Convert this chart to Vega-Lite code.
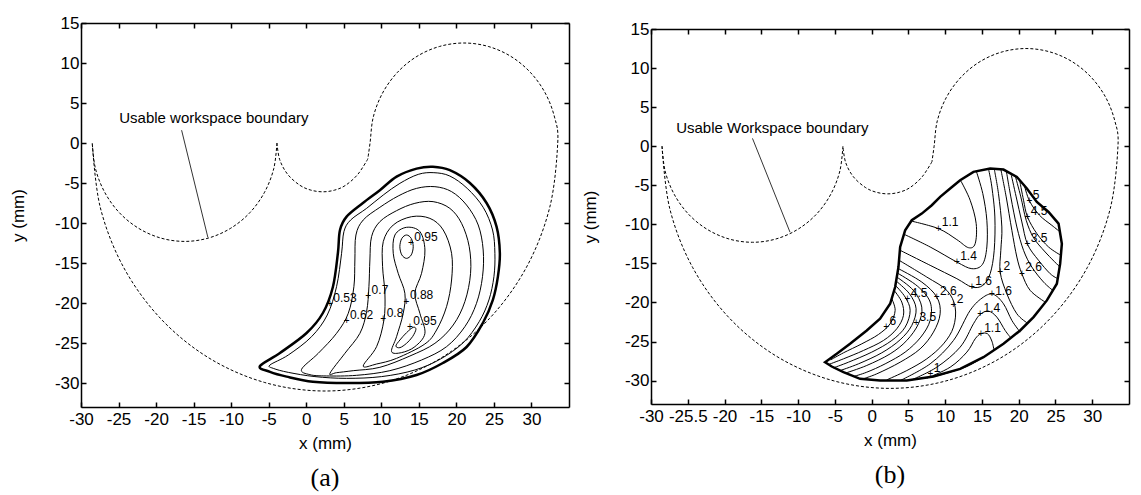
{
"$schema": "https://vega.github.io/schema/vega-lite/v6.json",
"autosize": {"type": "none"},
"padding": {"left": 81, "top": 23, "right": 1060, "bottom": 472},
"background": "white",
"config": {"view": {"stroke": null}, "font": "Liberation Sans"},
"datasets": {
"ws": [
{"c":"A","i":1,"x":-28.5,"y":0},{"c":"A","i":2,"x":-27.44,"y":-8.02},{"c":"A","i":3,"x":-24.35,"y":-15.5},{"c":"A","i":4,"x":-19.42,"y":-21.92},{"c":"A","i":5,"x":-13.0,"y":-26.85},{"c":"A","i":6,"x":-5.52,"y":-29.94},{"c":"A","i":7,"x":2.5,"y":-31},{"c":"A","i":8,"x":10.52,"y":-29.94},{"c":"A","i":9,"x":18.0,"y":-26.85},{"c":"A","i":10,"x":24.42,"y":-21.92},{"c":"A","i":11,"x":29.35,"y":-15.5},{"c":"A","i":12,"x":32.44,"y":-8.02},{"c":"A","i":13,"x":33.5,"y":0},{"c":"A","i":14,"x":33.07,"y":3.24},{"c":"A","i":15,"x":31.83,"y":6.25},{"c":"A","i":16,"x":29.84,"y":8.84},{"c":"A","i":17,"x":27.25,"y":10.83},{"c":"A","i":18,"x":24.24,"y":12.07},{"c":"A","i":19,"x":21.0,"y":12.5},{"c":"A","i":20,"x":17.76,"y":12.07},{"c":"A","i":21,"x":14.75,"y":10.83},{"c":"A","i":22,"x":12.16,"y":8.84},{"c":"A","i":23,"x":10.17,"y":6.25},{"c":"A","i":24,"x":8.93,"y":3.24},{"c":"A","i":25,"x":8.5,"y":0},{"c":"A","i":26,"x":8.2,"y":-2.0},
{"c":"B","i":1,"x":8.2,"y":-2.0},{"c":"B","i":2,"x":6.87,"y":-3.92},{"c":"B","i":3,"x":5.25,"y":-5.28},{"c":"B","i":4,"x":3.78,"y":-5.89},{"c":"B","i":5,"x":2.2,"y":-6.1},{"c":"B","i":6,"x":0.62,"y":-5.89},{"c":"B","i":7,"x":-0.85,"y":-5.28},{"c":"B","i":8,"x":-2.47,"y":-3.92},{"c":"B","i":9,"x":-3.53,"y":-2.09},{"c":"B","i":10,"x":-3.9,"y":0},
{"c":"C","i":1,"x":-3.9,"y":0},{"c":"C","i":2,"x":-4.32,"y":-3.18},{"c":"C","i":3,"x":-5.55,"y":-6.15},{"c":"C","i":4,"x":-7.5,"y":-8.7},{"c":"C","i":5,"x":-10.05,"y":-10.65},{"c":"C","i":6,"x":-13.02,"y":-11.88},{"c":"C","i":7,"x":-16.2,"y":-12.3},{"c":"C","i":8,"x":-19.38,"y":-11.88},{"c":"C","i":9,"x":-22.35,"y":-10.65},{"c":"C","i":10,"x":-24.9,"y":-8.7},{"c":"C","i":11,"x":-26.85,"y":-6.15},{"c":"C","i":12,"x":-28.08,"y":-3.18},{"c":"C","i":13,"x":-28.5,"y":0}
],
"ca": [
{"c":"T","i":1,"x":-6.17,"y":-27.9},{"c":"T","i":2,"x":-3.5,"y":-26.25},{"c":"T","i":3,"x":0.05,"y":-23.75},{"c":"T","i":4,"x":2.22,"y":-21.25},{"c":"T","i":5,"x":3.55,"y":-18.0},{"c":"T","i":6,"x":4.22,"y":-13.75},{"c":"T","i":7,"x":4.49,"y":-10.9},{"c":"T","i":8,"x":5.38,"y":-9.2},{"c":"T","i":9,"x":7.55,"y":-7.5},{"c":"T","i":10,"x":9.81,"y":-5.9},{"c":"T","i":11,"x":12.04,"y":-4.2},{"c":"T","i":12,"x":14.7,"y":-3.2},{"c":"T","i":13,"x":16.87,"y":-2.96},{"c":"T","i":14,"x":19.13,"y":-3.4},{"c":"T","i":15,"x":21.8,"y":-5.0},{"c":"T","i":16,"x":24.02,"y":-7.5},{"c":"T","i":17,"x":25.35,"y":-10.46},{"c":"T","i":18,"x":25.79,"y":-13.75},{"c":"T","i":19,"x":25.53,"y":-16.7},{"c":"T","i":20,"x":24.86,"y":-19.6},{"c":"T","i":21,"x":23.53,"y":-22.5},{"c":"T","i":22,"x":21.36,"y":-25.5},{"c":"T","i":23,"x":18.2,"y":-27.5},{"c":"T","i":24,"x":14.7,"y":-29.0},{"c":"T","i":25,"x":10.21,"y":-29.84},{"c":"T","i":26,"x":5.38,"y":-30.0},{"c":"T","i":27,"x":0.89,"y":-29.84},{"c":"T","i":28,"x":-2.61,"y":-29.2},{"c":"T","i":29,"x":-4.83,"y":-28.6},
{"c":"c53","i":1,"x":-4.83,"y":-27.75},{"c":"c53","i":2,"x":-2.39,"y":-26.5},{"c":"c53","i":3,"x":0.71,"y":-24.21},{"c":"c53","i":4,"x":2.8,"y":-21.5},{"c":"c53","i":5,"x":4.04,"y":-17.96},{"c":"c53","i":6,"x":4.71,"y":-13.79},{"c":"c53","i":7,"x":5.02,"y":-11.08},{"c":"c53","i":8,"x":5.91,"y":-9.63},{"c":"c53","i":9,"x":8.04,"y":-8.17},{"c":"c53","i":10,"x":10.26,"y":-6.5},{"c":"c53","i":11,"x":12.48,"y":-5.04},{"c":"c53","i":12,"x":14.92,"y":-3.92},{"c":"c53","i":13,"x":17.0,"y":-3.71},{"c":"c53","i":14,"x":19.13,"y":-4.13},{"c":"c53","i":15,"x":21.44,"y":-5.67},{"c":"c53","i":16,"x":23.57,"y":-8.04},{"c":"c53","i":17,"x":24.82,"y":-10.875},{"c":"c53","i":18,"x":25.13,"y":-13.79},{"c":"c53","i":19,"x":25.0,"y":-16.71},{"c":"c53","i":20,"x":24.33,"y":-19.625},{"c":"c53","i":21,"x":23.04,"y":-22.33},{"c":"c53","i":22,"x":20.91,"y":-24.96},{"c":"c53","i":23,"x":17.89,"y":-27.0},{"c":"c53","i":24,"x":14.47,"y":-28.375},{"c":"c53","i":25,"x":10.04,"y":-29.2},{"c":"c53","i":26,"x":5.37,"y":-29.42},{"c":"c53","i":27,"x":1.16,"y":-29.2},{"c":"c53","i":28,"x":-2.39,"y":-28.67},{"c":"c53","i":29,"x":-4.39,"y":-28.17},
{"c":"c62","i":1,"x":-0.62,"y":-28.29},{"c":"c62","i":2,"x":1.6,"y":-26.29},{"c":"c62","i":3,"x":4.04,"y":-23.79},{"c":"c62","i":4,"x":5.6,"y":-21.29},{"c":"c62","i":5,"x":6.35,"y":-17.96},{"c":"c62","i":6,"x":6.48,"y":-14.625},{"c":"c62","i":7,"x":6.62,"y":-11.5},{"c":"c62","i":8,"x":7.59,"y":-9.625},{"c":"c62","i":9,"x":9.81,"y":-8.04},{"c":"c62","i":10,"x":12.25,"y":-6.625},{"c":"c62","i":11,"x":14.7,"y":-5.67},{"c":"c62","i":12,"x":17.14,"y":-5.46},{"c":"c62","i":13,"x":19.36,"y":-6.08},{"c":"c62","i":14,"x":21.35,"y":-7.75},{"c":"c62","i":15,"x":22.91,"y":-10.25},{"c":"c62","i":16,"x":23.57,"y":-13.375},{"c":"c62","i":17,"x":23.48,"y":-16.71},{"c":"c62","i":18,"x":22.68,"y":-20.04},{"c":"c62","i":19,"x":21.13,"y":-22.96},{"c":"c62","i":20,"x":18.69,"y":-25.46},{"c":"c62","i":21,"x":15.36,"y":-27.125},{"c":"c62","i":22,"x":11.14,"y":-28.46},{"c":"c62","i":23,"x":6.71,"y":-29.04},{"c":"c62","i":24,"x":2.71,"y":-29.12},{"c":"c62","i":25,"x":0.49,"y":-28.96},
{"c":"c70","i":1,"x":3.16,"y":-28.79},{"c":"c70","i":2,"x":5.15,"y":-26.29},{"c":"c70","i":3,"x":7.15,"y":-23.79},{"c":"c70","i":4,"x":8.04,"y":-21.08},{"c":"c70","i":5,"x":8.35,"y":-17.96},{"c":"c70","i":6,"x":8.48,"y":-14.625},{"c":"c70","i":7,"x":8.7,"y":-11.71},{"c":"c70","i":8,"x":9.81,"y":-9.83},{"c":"c70","i":9,"x":12.03,"y":-8.46},{"c":"c70","i":10,"x":14.47,"y":-7.54},{"c":"c70","i":11,"x":16.9,"y":-7.33},{"c":"c70","i":12,"x":19.13,"y":-8.17},{"c":"c70","i":13,"x":20.69,"y":-10.04},{"c":"c70","i":14,"x":21.71,"y":-12.96},{"c":"c70","i":15,"x":21.89,"y":-16.29},{"c":"c70","i":16,"x":21.13,"y":-19.83},{"c":"c70","i":17,"x":19.58,"y":-22.75},{"c":"c70","i":18,"x":17.14,"y":-25.04},{"c":"c70","i":19,"x":13.81,"y":-26.625},{"c":"c70","i":20,"x":9.81,"y":-28.04},{"c":"c70","i":21,"x":6.26,"y":-28.46},{"c":"c70","i":22,"x":4.04,"y":-28.71},
{"c":"c80","i":1,"x":7.59,"y":-27.875},{"c":"c80","i":2,"x":9.37,"y":-25.46},{"c":"c80","i":3,"x":10.35,"y":-22.125},{"c":"c80","i":4,"x":10.48,"y":-18.79},{"c":"c80","i":5,"x":10.17,"y":-15.46},{"c":"c80","i":6,"x":10.26,"y":-12.33},{"c":"c80","i":7,"x":11.59,"y":-10.25},{"c":"c80","i":8,"x":14.03,"y":-9.21},{"c":"c80","i":9,"x":16.47,"y":-9.42},{"c":"c80","i":10,"x":18.25,"y":-10.875},{"c":"c80","i":11,"x":19.36,"y":-13.79},{"c":"c80","i":12,"x":19.36,"y":-17.125},{"c":"c80","i":13,"x":18.69,"y":-20.46},{"c":"c80","i":14,"x":17.36,"y":-23.375},{"c":"c80","i":15,"x":15.8,"y":-25.125},{"c":"c80","i":16,"x":12.03,"y":-26.92},{"c":"c80","i":17,"x":9.37,"y":-27.625},
{"c":"c88","i":1,"x":11.37,"y":-26.08},{"c":"c88","i":2,"x":12.03,"y":-24.21},{"c":"c88","i":3,"x":12.92,"y":-21.29},{"c":"c88","i":4,"x":13.14,"y":-18.79},{"c":"c88","i":5,"x":12.25,"y":-16.29},{"c":"c88","i":6,"x":11.59,"y":-13.79},{"c":"c88","i":7,"x":11.81,"y":-11.5},{"c":"c88","i":8,"x":13.36,"y":-10.54},{"c":"c88","i":9,"x":15.14,"y":-11.08},{"c":"c88","i":10,"x":15.81,"y":-13.375},{"c":"c88","i":11,"x":15.36,"y":-16.29},{"c":"c88","i":12,"x":14.47,"y":-18.79},{"c":"c88","i":13,"x":15.14,"y":-21.29},{"c":"c88","i":14,"x":15.81,"y":-23.79},{"c":"c88","i":15,"x":14.47,"y":-25.46},{"c":"c88","i":16,"x":12.7,"y":-26.2},
{"c":"i1","i":1,"x":14.25,"y":-12.96},{"c":"i1","i":2,"x":13.99,"y":-11.93},{"c":"i1","i":3,"x":13.36,"y":-11.5},{"c":"i1","i":4,"x":12.73,"y":-11.93},{"c":"i1","i":5,"x":12.47,"y":-12.96},{"c":"i1","i":6,"x":12.73,"y":-13.99},{"c":"i1","i":7,"x":13.36,"y":-14.42},{"c":"i1","i":8,"x":13.99,"y":-13.99},
{"c":"i2","i":1,"x":11.94,"y":-25.375},{"c":"i2","i":2,"x":12.48,"y":-24.625},{"c":"i2","i":3,"x":13.36,"y":-23.71},{"c":"i2","i":4,"x":14.25,"y":-23.04},{"c":"i2","i":5,"x":14.61,"y":-23.29},{"c":"i2","i":6,"x":14.16,"y":-24.21},{"c":"i2","i":7,"x":13.36,"y":-25.04},{"c":"i2","i":8,"x":12.48,"y":-25.58}
],
"tb": [
{"i":1,"x":-6.33,"y":-27.65},{"i":2,"x":-4.74,"y":-26.58},{"i":3,"x":-2.93,"y":-25.3},{"i":4,"x":-0.66,"y":-23.59},{"i":5,"x":1.15,"y":-22.09},{"i":6,"x":2.52,"y":-20.17},{"i":7,"x":3.2,"y":-18.03},{"i":8,"x":3.65,"y":-15.47},{"i":9,"x":3.88,"y":-12.9},{"i":10,"x":4.56,"y":-10.77},{"i":11,"x":5.46,"y":-9.48},{"i":12,"x":6.82,"y":-8.63},{"i":13,"x":8.18,"y":-7.56},{"i":14,"x":9.32,"y":-6.49},{"i":15,"x":10.68,"y":-5.42},{"i":16,"x":12.04,"y":-4.36},{"i":17,"x":13.85,"y":-3.29},{"i":18,"x":16.12,"y":-2.86},{"i":19,"x":17.93,"y":-2.99},{"i":20,"x":19.75,"y":-3.93},{"i":21,"x":21.11,"y":-5.42},{"i":22,"x":22.47,"y":-7.13},{"i":23,"x":24.06,"y":-8.42},{"i":24,"x":25.42,"y":-9.91},{"i":25,"x":25.87,"y":-12.48},{"i":26,"x":25.64,"y":-15.04},{"i":27,"x":25.19,"y":-17.6},{"i":28,"x":23.83,"y":-19.74},{"i":29,"x":22.02,"y":-21.88},{"i":30,"x":20.2,"y":-23.59},{"i":31,"x":17.93,"y":-25.3},{"i":32,"x":15.21,"y":-27.01},{"i":33,"x":12.04,"y":-28.5},{"i":34,"x":8.41,"y":-29.48},{"i":35,"x":4.78,"y":-30.0},{"i":36,"x":1.15,"y":-30.0},{"i":37,"x":-1.57,"y":-29.78},{"i":38,"x":-3.83,"y":-28.93},{"i":39,"x":-5.42,"y":-28.2}
],
"cb": [
{"c":"T1","i":1,"x":5.33,"y":-9.57},{"c":"T1","i":2,"x":9.09,"y":-10.55},{"c":"T1","i":3,"x":11.59,"y":-11.96},{"c":"T1","i":4,"x":13.17,"y":-12.99},{"c":"T1","i":5,"x":14.08,"y":-12.48},{"c":"T1","i":6,"x":14.22,"y":-9.91},{"c":"T1","i":7,"x":13.4,"y":-6.92},{"c":"T1","i":8,"x":12.13,"y":-4.44},
{"c":"T2","i":1,"x":4.42,"y":-11.28},{"c":"T2","i":2,"x":7.96,"y":-12.9},{"c":"T2","i":3,"x":11.59,"y":-14.83},{"c":"T2","i":4,"x":13.63,"y":-15.68},{"c":"T2","i":5,"x":15.07,"y":-15.13},{"c":"T2","i":6,"x":15.67,"y":-12.9},{"c":"T2","i":7,"x":15.67,"y":-9.48},{"c":"T2","i":8,"x":15.12,"y":-6.07},{"c":"T2","i":9,"x":14.22,"y":-3.16},
{"c":"T3","i":1,"x":3.88,"y":-13.33},{"c":"T3","i":2,"x":7.96,"y":-15.25},{"c":"T3","i":3,"x":11.59,"y":-16.96},{"c":"T3","i":4,"x":13.63,"y":-18.03},{"c":"T3","i":5,"x":15.12,"y":-17.82},{"c":"T3","i":6,"x":16.12,"y":-16.32},{"c":"T3","i":7,"x":16.67,"y":-13.33},{"c":"T3","i":8,"x":16.76,"y":-9.06},{"c":"T3","i":9,"x":16.35,"y":-5.21},{"c":"T3","i":10,"x":15.89,"y":-2.9},
{"c":"L2","i":1,"x":3.74,"y":-14.61},{"c":"L2","i":2,"x":7.5,"y":-16.75},{"c":"L2","i":3,"x":10.23,"y":-18.46},{"c":"L2","i":4,"x":11.36,"y":-20.6},{"c":"L2","i":5,"x":11.13,"y":-23.16},{"c":"L2","i":6,"x":9.77,"y":-25.3},{"c":"L2","i":7,"x":7.5,"y":-27.22},{"c":"L2","i":8,"x":4.78,"y":-28.72},{"c":"L2","i":9,"x":2.06,"y":-29.91},
{"c":"L26","i":1,"x":3.65,"y":-15.68},{"c":"L26","i":2,"x":6.82,"y":-17.39},{"c":"L26","i":3,"x":8.86,"y":-19.31},{"c":"L26","i":4,"x":9.32,"y":-21.45},{"c":"L26","i":5,"x":8.41,"y":-23.8},{"c":"L26","i":6,"x":6.6,"y":-25.94},{"c":"L26","i":7,"x":3.88,"y":-27.65},{"c":"L26","i":8,"x":0.7,"y":-29.14},{"c":"L26","i":9,"x":-1.34,"y":-29.83},
{"c":"L3","i":1,"x":3.51,"y":-16.24},{"c":"L3","i":2,"x":6.28,"y":-17.95},{"c":"L3","i":3,"x":7.96,"y":-19.95},{"c":"L3","i":4,"x":7.96,"y":-22.3},{"c":"L3","i":5,"x":6.69,"y":-24.44},{"c":"L3","i":6,"x":4.56,"y":-26.36},{"c":"L3","i":7,"x":1.84,"y":-27.86},{"c":"L3","i":8,"x":-0.66,"y":-28.93},{"c":"L3","i":9,"x":-2.47,"y":-29.48},
{"c":"L35","i":1,"x":3.42,"y":-16.75},{"c":"L35","i":2,"x":5.69,"y":-18.46},{"c":"L35","i":3,"x":6.82,"y":-20.6},{"c":"L35","i":4,"x":6.37,"y":-22.73},{"c":"L35","i":5,"x":4.78,"y":-24.87},{"c":"L35","i":6,"x":2.52,"y":-26.58},{"c":"L35","i":7,"x":-0.66,"y":-28.07},{"c":"L35","i":8,"x":-3.61,"y":-29.06},
{"c":"L4","i":1,"x":3.33,"y":-17.26},{"c":"L4","i":2,"x":5.15,"y":-18.89},{"c":"L4","i":3,"x":6.05,"y":-20.81},{"c":"L4","i":4,"x":5.46,"y":-22.95},{"c":"L4","i":5,"x":3.88,"y":-24.78},{"c":"L4","i":6,"x":1.38,"y":-26.45},{"c":"L4","i":7,"x":-1.79,"y":-27.86},{"c":"L4","i":8,"x":-4.29,"y":-28.72},
{"c":"L45","i":1,"x":3.24,"y":-17.82},{"c":"L45","i":2,"x":4.56,"y":-19.31},{"c":"L45","i":3,"x":5.24,"y":-21.02},{"c":"L45","i":4,"x":4.56,"y":-23.16},{"c":"L45","i":5,"x":2.74,"y":-24.87},{"c":"L45","i":6,"x":0.02,"y":-26.36},{"c":"L45","i":7,"x":-3.15,"y":-27.65},{"c":"L45","i":8,"x":-5.19,"y":-28.37},
{"c":"L5","i":1,"x":3.06,"y":-18.46},{"c":"L5","i":2,"x":4.1,"y":-19.95},{"c":"L5","i":3,"x":4.33,"y":-21.66},{"c":"L5","i":4,"x":3.42,"y":-23.37},{"c":"L5","i":5,"x":1.61,"y":-24.87},{"c":"L5","i":6,"x":-1.11,"y":-26.15},{"c":"L5","i":7,"x":-3.83,"y":-27.22},{"c":"L5","i":8,"x":-5.87,"y":-27.95},
{"c":"L6","i":1,"x":2.74,"y":-19.53},{"c":"L6","i":2,"x":3.2,"y":-21.02},{"c":"L6","i":3,"x":2.52,"y":-22.73},{"c":"L6","i":4,"x":0.93,"y":-24.1},{"c":"L6","i":5,"x":-1.34,"y":-25.3},{"c":"L6","i":6,"x":-3.83,"y":-26.45},{"c":"L6","i":7,"x":-5.56,"y":-27.35},
{"c":"B16","i":1,"x":3.88,"y":-30.0},{"c":"B16","i":2,"x":7.96,"y":-27.86},{"c":"B16","i":3,"x":11.13,"y":-24.87},{"c":"B16","i":4,"x":13.4,"y":-21.02},{"c":"B16","i":5,"x":15.21,"y":-19.31},{"c":"B16","i":6,"x":16.57,"y":-18.97},{"c":"B16","i":7,"x":17.93,"y":-20.17},{"c":"B16","i":8,"x":19.07,"y":-22.3},{"c":"B16","i":9,"x":20.2,"y":-23.8},
{"c":"B14","i":1,"x":5.24,"y":-30.0},{"c":"B14","i":2,"x":8.86,"y":-28.29},{"c":"B14","i":3,"x":12.04,"y":-25.72},{"c":"B14","i":4,"x":13.85,"y":-22.73},{"c":"B14","i":5,"x":14.76,"y":-21.54},{"c":"B14","i":6,"x":15.89,"y":-21.11},{"c":"B14","i":7,"x":17.03,"y":-21.88},{"c":"B14","i":8,"x":18.16,"y":-23.59},{"c":"B14","i":9,"x":18.93,"y":-24.53},
{"c":"B11","i":1,"x":7.5,"y":-29.7},{"c":"B11","i":2,"x":10.68,"y":-28.29},{"c":"B11","i":3,"x":12.95,"y":-26.36},{"c":"B11","i":4,"x":14.08,"y":-24.66},{"c":"B11","i":5,"x":14.85,"y":-24.01},{"c":"B11","i":6,"x":15.76,"y":-24.01},{"c":"B11","i":7,"x":16.35,"y":-24.95},{"c":"B11","i":8,"x":16.66,"y":-26.15},
{"c":"B1","i":1,"x":8.86,"y":-29.4},{"c":"B1","i":2,"x":11.13,"y":-28.8},{"c":"B1","i":3,"x":12.95,"y":-28.2},{"c":"B1","i":4,"x":14.31,"y":-27.52},{"c":"B1","i":5,"x":14.99,"y":-27.09},
{"c":"R2","i":1,"x":16.67,"y":-2.9},{"c":"R2","i":2,"x":17.25,"y":-6.07},{"c":"R2","i":3,"x":17.71,"y":-10.34},{"c":"R2","i":4,"x":17.57,"y":-13.33},{"c":"R2","i":5,"x":17.48,"y":-16.11},{"c":"R2","i":6,"x":18.39,"y":-18.89},{"c":"R2","i":7,"x":19.75,"y":-21.45},{"c":"R2","i":8,"x":21.2,"y":-22.65},
{"c":"R26","i":1,"x":17.57,"y":-2.95},{"c":"R26","i":2,"x":18.3,"y":-6.49},{"c":"R26","i":3,"x":19.07,"y":-10.77},{"c":"R26","i":4,"x":19.75,"y":-14.19},{"c":"R26","i":5,"x":20.43,"y":-16.32},{"c":"R26","i":6,"x":21.56,"y":-18.46},{"c":"R26","i":7,"x":23.6,"y":-19.95},
{"c":"R3","i":1,"x":18.3,"y":-3.07},{"c":"R3","i":2,"x":18.93,"y":-6.49},{"c":"R3","i":3,"x":19.75,"y":-10.34},{"c":"R3","i":4,"x":20.66,"y":-13.33},{"c":"R3","i":5,"x":21.79,"y":-15.47},{"c":"R3","i":6,"x":23.38,"y":-17.39},{"c":"R3","i":7,"x":24.65,"y":-18.46},
{"c":"R35","i":1,"x":18.93,"y":-3.42},{"c":"R35","i":2,"x":19.66,"y":-6.49},{"c":"R35","i":3,"x":20.43,"y":-9.7},{"c":"R35","i":4,"x":21.2,"y":-12.56},{"c":"R35","i":5,"x":22.7,"y":-14.61},{"c":"R35","i":6,"x":24.28,"y":-16.32},{"c":"R35","i":7,"x":25.33,"y":-16.96},
{"c":"R4","i":1,"x":19.52,"y":-3.76},{"c":"R4","i":2,"x":20.29,"y":-6.49},{"c":"R4","i":3,"x":21.02,"y":-9.48},{"c":"R4","i":4,"x":22.02,"y":-11.71},{"c":"R4","i":5,"x":23.6,"y":-13.54},{"c":"R4","i":6,"x":25.6,"y":-15.47},
{"c":"R45","i":1,"x":20.11,"y":-4.27},{"c":"R45","i":2,"x":20.66,"y":-6.92},{"c":"R45","i":3,"x":21.2,"y":-9.06},{"c":"R45","i":4,"x":22.47,"y":-11.19},{"c":"R45","i":5,"x":24.06,"y":-12.9},{"c":"R45","i":6,"x":25.74,"y":-13.97},
{"c":"R5","i":1,"x":20.75,"y":-4.95},{"c":"R5","i":2,"x":21.47,"y":-7.01},{"c":"R5","i":3,"x":22.83,"y":-8.84},{"c":"R5","i":4,"x":24.51,"y":-10.13},{"c":"R5","i":5,"x":25.64,"y":-10.98}
],
"lead": [
{"p":"a","i":1,"x":-16.6,"y":1.6},{"p":"a","i":2,"x":-13.1,"y":-11.8},
{"p":"b","i":1,"x":-16.2,"y":1.0},{"p":"b","i":2,"x":-11.1,"y":-11.0}
],
"txt": [
{"p":"a","k":"ws","t":"Usable workspace boundary","x":-12.3,"y":3.1},
{"p":"b","k":"ws","t":"Usable Workspace boundary","x":-13.5,"y":2.3},
{"p":"a","k":"lab","t":"0.95","x":14.39,"y":-11.74},
{"p":"a","k":"lab","t":"0.53","x":3.61,"y":-19.37},
{"p":"a","k":"lab","t":"0.7","x":8.71,"y":-18.33},
{"p":"a","k":"lab","t":"0.88","x":13.81,"y":-19.03},
{"p":"a","k":"lab","t":"0.62","x":5.82,"y":-21.45},
{"p":"a","k":"lab","t":"0.8","x":10.71,"y":-21.2},
{"p":"a","k":"lab","t":"0.95","x":14.26,"y":-22.24},
{"p":"a","k":"plus","t":"+","x":13.94,"y":-12.54},
{"p":"a","k":"plus","t":"+","x":3.16,"y":-20.17},
{"p":"a","k":"plus","t":"+","x":8.26,"y":-19.125},
{"p":"a","k":"plus","t":"+","x":13.36,"y":-19.83},
{"p":"a","k":"plus","t":"+","x":5.37,"y":-22.25},
{"p":"a","k":"plus","t":"+","x":10.26,"y":-22.0},
{"p":"a","k":"plus","t":"+","x":13.81,"y":-23.04},
{"p":"b","k":"lab","t":"1.1","x":9.54,"y":-9.75},
{"p":"b","k":"lab","t":"1.4","x":12.04,"y":-14.03},
{"p":"b","k":"lab","t":"1.6","x":14.08,"y":-17.23},
{"p":"b","k":"lab","t":"1.6","x":16.8,"y":-18.5},
{"p":"b","k":"lab","t":"1.4","x":15.21,"y":-20.65},
{"p":"b","k":"lab","t":"1.1","x":15.3,"y":-23.21},
{"p":"b","k":"lab","t":"1","x":8.45,"y":-28.4},
{"p":"b","k":"lab","t":"4.5","x":5.32,"y":-18.73},
{"p":"b","k":"lab","t":"2.6","x":9.31,"y":-18.51},
{"p":"b","k":"lab","t":"2","x":11.58,"y":-19.58},
{"p":"b","k":"lab","t":"3.5","x":6.5,"y":-21.85},
{"p":"b","k":"lab","t":"6","x":2.42,"y":-22.36},
{"p":"b","k":"lab","t":"2","x":17.93,"y":-15.31},
{"p":"b","k":"lab","t":"2.6","x":20.88,"y":-15.52},
{"p":"b","k":"lab","t":"3.5","x":21.65,"y":-11.76},
{"p":"b","k":"lab","t":"4.5","x":21.65,"y":-8.26},
{"p":"b","k":"lab","t":"5","x":21.92,"y":-6.21},
{"p":"b","k":"plus","t":"+","x":9.09,"y":-10.55},
{"p":"b","k":"plus","t":"+","x":11.59,"y":-14.83},
{"p":"b","k":"plus","t":"+","x":13.63,"y":-18.03},
{"p":"b","k":"plus","t":"+","x":16.35,"y":-18.89},
{"p":"b","k":"plus","t":"+","x":14.76,"y":-21.45},
{"p":"b","k":"plus","t":"+","x":14.85,"y":-24.01},
{"p":"b","k":"plus","t":"+","x":8.0,"y":-29.2},
{"p":"b","k":"plus","t":"+","x":4.87,"y":-19.53},
{"p":"b","k":"plus","t":"+","x":8.86,"y":-19.31},
{"p":"b","k":"plus","t":"+","x":11.13,"y":-20.38},
{"p":"b","k":"plus","t":"+","x":6.05,"y":-22.65},
{"p":"b","k":"plus","t":"+","x":1.97,"y":-23.16},
{"p":"b","k":"plus","t":"+","x":17.48,"y":-16.11},
{"p":"b","k":"plus","t":"+","x":20.43,"y":-16.32},
{"p":"b","k":"plus","t":"+","x":21.2,"y":-12.56},
{"p":"b","k":"plus","t":"+","x":21.2,"y":-9.06},
{"p":"b","k":"plus","t":"+","x":21.47,"y":-7.01}
]
},
"spacing": 82,
"bounds": "flush",
"hconcat": [
{
"width": 488, "height": 384,
"title": {"text": "(a)", "orient": "bottom", "font": "Liberation Serif", "fontSize": 26, "fontWeight": "normal", "color": "black", "offset": 14},
"resolve": {"axis": {"x": "independent", "y": "independent"}},
"layer": [
{"data": {"name": "ws"},
 "mark": {"type": "line", "interpolate": "cardinal", "strokeDash": [3, 2], "strokeWidth": 1, "color": "black"},
 "encoding": {
  "x": {"field": "x", "type": "quantitative", "scale": {"domain": [-30, 35], "nice": false, "zero": false},
        "axis": {"orient": "bottom", "values": [-30,-25,-20,-15,-10,-5,0,5,10,15,20,25,30], "labelExpr": "datum.value + ''", "grid": false, "domain": true, "domainColor": "black", "domainWidth": 1.5, "ticks": true, "tickSize": -5, "tickColor": "black", "tickWidth": 1.5, "labelPadding": 9, "labelFont": "Liberation Sans", "labelFontSize": 17, "labelColor": "black", "labelFlush": false, "labelOverlap": false, "labelBound": false, "title": "x (mm)", "titleFont": "Liberation Sans", "titleFontSize": 17, "titleFontWeight": "normal", "titleColor": "black", "titleY": 36, "titleBaseline": "middle"}},
  "y": {"field": "y", "type": "quantitative", "scale": {"domain": [-33, 15], "nice": false, "zero": false},
        "axis": {"orient": "left", "values": [-30,-25,-20,-15,-10,-5,0,5,10,15], "labelExpr": "datum.value + ''", "grid": false, "domain": true, "domainColor": "black", "domainWidth": 1.5, "ticks": true, "tickSize": -5, "tickColor": "black", "tickWidth": 1.5, "labelPadding": 7, "labelFont": "Liberation Sans", "labelFontSize": 17, "labelColor": "black", "labelFlush": false, "labelOverlap": false, "labelBound": false, "title": "y (mm)", "titleFont": "Liberation Sans", "titleFontSize": 17, "titleFontWeight": "normal", "titleColor": "black", "titleX": -63, "titleY": 192, "titleAngle": -90, "titleAlign": "center", "titleBaseline": "middle"}},
  "detail": {"field": "c", "type": "nominal"},
  "order": {"field": "i", "type": "quantitative"}
 }},
{"data": {"name": "ca"},
 "transform": [{"filter": "datum.c == 'T'"}],
 "mark": {"type": "line", "interpolate": "cardinal-closed", "strokeWidth": 2.5, "color": "black"},
 "encoding": {
  "x": {"field": "x", "type": "quantitative", "scale": {"domain": [-30, 35], "nice": false, "zero": false},
        "axis": {"orient": "top", "values": [-30,-25,-20,-15,-10,-5,0,5,10,15,20,25,30], "labels": false, "title": null, "grid": false, "domain": true, "domainColor": "black", "domainWidth": 1.5, "ticks": true, "tickSize": -5, "tickColor": "black", "tickWidth": 1.5}},
  "y": {"field": "y", "type": "quantitative", "scale": {"domain": [-33, 15], "nice": false, "zero": false},
        "axis": {"orient": "right", "values": [-30,-25,-20,-15,-10,-5,0,5,10,15], "labels": false, "title": null, "grid": false, "domain": true, "domainColor": "black", "domainWidth": 1.5, "ticks": true, "tickSize": -5, "tickColor": "black", "tickWidth": 1.5}},
  "detail": {"field": "c", "type": "nominal"},
  "order": {"field": "i", "type": "quantitative"}
 }},
{"data": {"name": "ca"},
 "transform": [{"filter": "datum.c != 'T'"}],
 "mark": {"type": "line", "interpolate": "cardinal-closed", "strokeWidth": 1, "color": "black"},
 "encoding": {
  "x": {"field": "x", "type": "quantitative", "axis": null},
  "y": {"field": "y", "type": "quantitative", "axis": null},
  "detail": {"field": "c", "type": "nominal"},
  "order": {"field": "i", "type": "quantitative"}
 }},
{"data": {"name": "lead"},
 "transform": [{"filter": "datum.p == 'a'"}],
 "mark": {"type": "line", "strokeWidth": 0.8, "color": "black"},
 "encoding": {
  "x": {"field": "x", "type": "quantitative", "axis": null},
  "y": {"field": "y", "type": "quantitative", "axis": null},
  "order": {"field": "i", "type": "quantitative"}
 }},
{"data": {"name": "txt"},
 "transform": [{"filter": "datum.p == 'a' && datum.k == 'lab'"}],
 "mark": {"type": "text", "align": "left", "baseline": "middle", "font": "Liberation Sans", "fontSize": 12, "color": "black"},
 "encoding": {
  "x": {"field": "x", "type": "quantitative", "axis": null},
  "y": {"field": "y", "type": "quantitative", "axis": null},
  "text": {"field": "t", "type": "nominal"}
 }},
{"data": {"name": "txt"},
 "transform": [{"filter": "datum.p == 'a' && datum.k == 'plus'"}],
 "mark": {"type": "text", "align": "center", "baseline": "middle", "font": "Liberation Sans", "fontSize": 10, "color": "black"},
 "encoding": {
  "x": {"field": "x", "type": "quantitative", "axis": null},
  "y": {"field": "y", "type": "quantitative", "axis": null},
  "text": {"field": "t", "type": "nominal"}
 }},
{"data": {"name": "txt"},
 "transform": [{"filter": "datum.p == 'a' && datum.k == 'ws'"}],
 "mark": {"type": "text", "align": "center", "baseline": "middle", "font": "Liberation Sans", "fontSize": 15, "color": "black"},
 "encoding": {
  "x": {"field": "x", "type": "quantitative", "axis": null},
  "y": {"field": "y", "type": "quantitative", "axis": null},
  "text": {"field": "t", "type": "nominal"}
 }}
]
},
{
"spacing": 5,
"bounds": "flush",
"vconcat": [
{"width": 478, "height": 1, "data": {"values": [{"a": 1}]}, "mark": {"type": "point", "opacity": 0}},
{
"width": 478, "height": 375,
"title": {"text": "(b)", "orient": "bottom", "font": "Liberation Serif", "fontSize": 26, "fontWeight": "normal", "color": "black", "offset": 14},
"resolve": {"axis": {"x": "independent", "y": "independent"}},
"layer": [
{"data": {"name": "ws"},
 "mark": {"type": "line", "interpolate": "cardinal", "strokeDash": [3, 2], "strokeWidth": 1, "color": "black"},
 "encoding": {
  "x": {"field": "x", "type": "quantitative", "scale": {"domain": [-30, 35], "nice": false, "zero": false},
        "axis": {"orient": "bottom", "values": [-30,-25,-20,-15,-10,-5,0,5,10,15,20,25,30], "labelExpr": "datum.value == -25 ? '-25.5' : datum.value + ''", "grid": false, "domain": true, "domainColor": "black", "domainWidth": 1.5, "ticks": true, "tickSize": -5, "tickColor": "black", "tickWidth": 1.5, "labelPadding": 9, "labelFont": "Liberation Sans", "labelFontSize": 17, "labelColor": "black", "labelFlush": false, "labelOverlap": false, "labelBound": false, "title": "x (mm)", "titleFont": "Liberation Sans", "titleFontSize": 17, "titleFontWeight": "normal", "titleColor": "black", "titleY": 36, "titleBaseline": "middle"}},
  "y": {"field": "y", "type": "quantitative", "scale": {"domain": [-33, 15], "nice": false, "zero": false},
        "axis": {"orient": "left", "values": [-30,-25,-20,-15,-10,-5,0,5,10,15], "labelExpr": "datum.value + ''", "grid": false, "domain": true, "domainColor": "black", "domainWidth": 1.5, "ticks": true, "tickSize": -5, "tickColor": "black", "tickWidth": 1.5, "labelPadding": 7, "labelFont": "Liberation Sans", "labelFontSize": 17, "labelColor": "black", "labelFlush": false, "labelOverlap": false, "labelBound": false, "title": "y (mm)", "titleFont": "Liberation Sans", "titleFontSize": 17, "titleFontWeight": "normal", "titleColor": "black", "titleX": -61, "titleY": 187.5, "titleAngle": -90, "titleAlign": "center", "titleBaseline": "middle"}},
  "detail": {"field": "c", "type": "nominal"},
  "order": {"field": "i", "type": "quantitative"}
 }},
{"data": {"name": "tb"},
 "mark": {"type": "line", "interpolate": "linear-closed", "strokeWidth": 2.5, "color": "black"},
 "encoding": {
  "x": {"field": "x", "type": "quantitative", "scale": {"domain": [-30, 35], "nice": false, "zero": false},
        "axis": {"orient": "top", "values": [-30,-25,-20,-15,-10,-5,0,5,10,15,20,25,30], "labels": false, "title": null, "grid": false, "domain": true, "domainColor": "black", "domainWidth": 1.5, "ticks": true, "tickSize": -5, "tickColor": "black", "tickWidth": 1.5}},
  "y": {"field": "y", "type": "quantitative", "scale": {"domain": [-33, 15], "nice": false, "zero": false},
        "axis": {"orient": "right", "values": [-30,-25,-20,-15,-10,-5,0,5,10,15], "labels": false, "title": null, "grid": false, "domain": true, "domainColor": "black", "domainWidth": 1.5, "ticks": true, "tickSize": -5, "tickColor": "black", "tickWidth": 1.5}},
  "order": {"field": "i", "type": "quantitative"}
 }},
{"data": {"name": "cb"},
 "mark": {"type": "line", "interpolate": "cardinal", "strokeWidth": 1, "color": "black"},
 "encoding": {
  "x": {"field": "x", "type": "quantitative", "axis": null},
  "y": {"field": "y", "type": "quantitative", "axis": null},
  "detail": {"field": "c", "type": "nominal"},
  "order": {"field": "i", "type": "quantitative"}
 }},
{"data": {"name": "lead"},
 "transform": [{"filter": "datum.p == 'b'"}],
 "mark": {"type": "line", "strokeWidth": 0.8, "color": "black"},
 "encoding": {
  "x": {"field": "x", "type": "quantitative", "axis": null},
  "y": {"field": "y", "type": "quantitative", "axis": null},
  "order": {"field": "i", "type": "quantitative"}
 }},
{"data": {"name": "txt"},
 "transform": [{"filter": "datum.p == 'b' && datum.k == 'lab'"}],
 "mark": {"type": "text", "align": "left", "baseline": "middle", "font": "Liberation Sans", "fontSize": 12, "color": "black"},
 "encoding": {
  "x": {"field": "x", "type": "quantitative", "axis": null},
  "y": {"field": "y", "type": "quantitative", "axis": null},
  "text": {"field": "t", "type": "nominal"}
 }},
{"data": {"name": "txt"},
 "transform": [{"filter": "datum.p == 'b' && datum.k == 'plus'"}],
 "mark": {"type": "text", "align": "center", "baseline": "middle", "font": "Liberation Sans", "fontSize": 10, "color": "black"},
 "encoding": {
  "x": {"field": "x", "type": "quantitative", "axis": null},
  "y": {"field": "y", "type": "quantitative", "axis": null},
  "text": {"field": "t", "type": "nominal"}
 }},
{"data": {"name": "txt"},
 "transform": [{"filter": "datum.p == 'b' && datum.k == 'ws'"}],
 "mark": {"type": "text", "align": "center", "baseline": "middle", "font": "Liberation Sans", "fontSize": 15, "color": "black"},
 "encoding": {
  "x": {"field": "x", "type": "quantitative", "axis": null},
  "y": {"field": "y", "type": "quantitative", "axis": null},
  "text": {"field": "t", "type": "nominal"}
 }}
]
}
]
}
]
}
